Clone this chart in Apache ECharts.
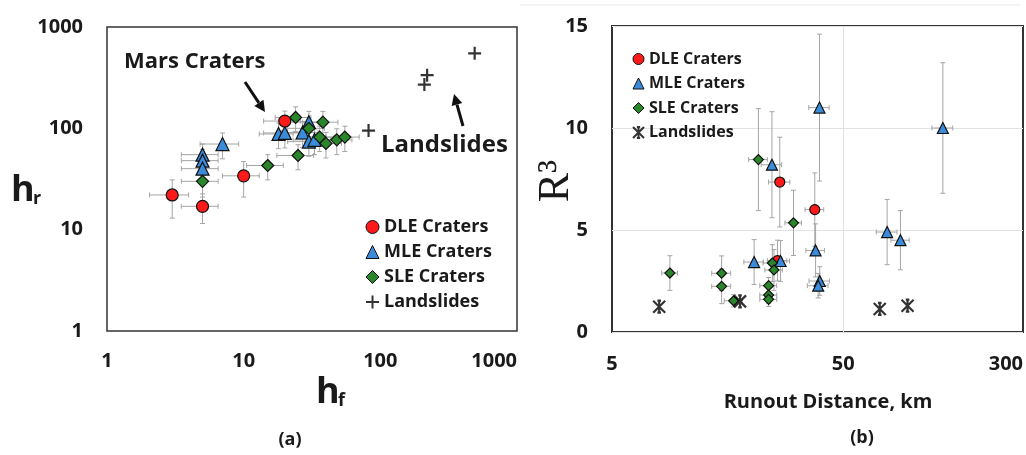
<!DOCTYPE html>
<html><head><meta charset="utf-8">
<script src="https://cdn.jsdelivr.net/npm/echarts@6/dist/echarts.min.js"></script>
<style>html,body{margin:0;padding:0;background:#fff}#c{width:1026px;height:455px}</style>
</head><body><div id="c"></div>
<script>
// ---------- Panel (a): h_f (x) vs h_r (y), log-log ----------
const dleA_x = [3, 5, 10, 20];
const dleA_y = [22, 17, 34, 118];
const dleA_xerr = [0.95, 1.5, 3, 6];
const dleA_yerr = [9, 5.5, 13, 30];

const mleA_x = [5, 5, 5, 7, 18, 20, 27, 30, 30, 33];
const mleA_y = [55, 48, 40, 70, 88, 90, 91, 115, 74, 77];
const mleA_xerr = [1.5, 1.5, 1.5, 2.2, 5, 6, 8, 9, 9, 10];
const mleA_yerr = [15, 14, 12, 20, 25, 26, 26, 32, 21, 22];

const sleA_x = [5, 15, 24, 25, 30, 36, 38, 40, 48, 55];
const sleA_y = [30, 43, 128, 54, 100, 82, 115, 71, 77, 82];
const sleA_xerr = [1.5, 4.5, 7, 7.5, 9, 10, 11, 12, 14, 15];
const sleA_yerr = [9, 12, 35, 15, 28, 23, 32, 20, 22, 23];

const landA_x = [82, 210, 220, 490];
const landA_y = [95, 270, 335, 550];

const ticksA = [1, 10, 100, 1000];

// ---------- Panel (b): runout distance (x, log) vs R^3 (y) ----------
const dleB_x = [26.6, 37.7, 26];
const dleB_y = [7.35, 6.0, 3.5];
const dleB_xerr = [2.8, 3.5, 2.5];
const dleB_yerr = [2.2, 1.8, 1.0];

const mleB_x = [20.6, 24.6, 26.8, 38, 39.5, 39.6, 39, 77.5, 88.5, 135];
const mleB_y = [3.43, 8.2, 3.48, 4.0, 11.0, 2.5, 2.27, 4.9, 4.5, 10.0];
const mleB_xerr = [2, 2.5, 2.5, 3.5, 4, 4, 4, 8, 8, 14];
const mleB_yerr = [1.1, 2.6, 1.0, 1.3, 3.6, 0.7, 0.6, 1.6, 1.45, 3.2];

const sleB_x = [8.9, 14.9, 14.9, 16.8, 21.5, 23.8, 23.8, 23.8, 24.7, 25.1, 30.5];
const sleB_y = [2.89, 2.88, 2.24, 1.53, 8.45, 2.27, 1.81, 1.6, 3.38, 3.04, 5.35];
const sleB_xerr = [0.7, 1.4, 1.4, 1.5, 2, 2, 2, 2, 2.2, 2.2, 2.5];
const sleB_yerr = [0.85, 0.85, 0.85, 0.3, 2.5, 0.4, 0.4, 0.35, 0.9, 1.0, 1.6];

const landB_x = [8, 17.9, 72, 95];
const landB_y = [1.24, 1.5, 1.13, 1.29];

const ticksBx = [5, 50, 300];
const legendNames = ['DLE Craters', 'MLE Craters', 'SLE Craters', 'Landslides'];

// ---------- styles ----------
const FONT = 'Open Sans';
const TXT = '#1a1a1a';
const RED = '#ff1a1a', BLUE = '#3a8cdb', GREEN = '#2a862a';
const PLUS = 'path://M5,0L5,10M0,5L10,5';
const STAR = 'path://M0,0L10,10M10,0L0,10M5,0L5,10M3.5,0L6.5,0M3.5,10L6.5,10';

function pts(xs, ys) { return xs.map((x, i) => [x, ys[i]]); }
function errData(xs, ys, xe, ye) { return xs.map((x, i) => [x, ys[i], xe[i], ye[i]]); }

function errSeries(xs, ys, xe, ye, gi) {
  return {
    type: 'custom', xAxisIndex: gi, yAxisIndex: gi, z: 1, silent: true,
    encode: { x: 0, y: 1 },
    data: errData(xs, ys, xe, ye),
    renderItem: function (params, api) {
      const x = api.value(0), y = api.value(1), ex = api.value(2), ey = api.value(3);
      const l = api.coord([x - ex, y]), r = api.coord([x + ex, y]);
      const t = api.coord([x, y + ey]), b = api.coord([x, y - ey]);
      const st = { stroke: '#a5a5a5', lineWidth: 1 };
      const c = 2.5;
      const L = (x1, y1, x2, y2) => ({ type: 'line', shape: { x1, y1, x2, y2 }, style: st });
      return {
        type: 'group', children: [
          L(l[0], l[1], r[0], r[1]),
          L(l[0], l[1] - c, l[0], l[1] + c),
          L(r[0], r[1] - c, r[0], r[1] + c),
          L(t[0], t[1], b[0], b[1]),
          L(t[0] - c, t[1], t[0] + c, t[1]),
          L(b[0] - c, b[1], b[0] + c, b[1])
        ]
      };
    }
  };
}

function scat(name, xs, ys, gi, symbol, size, color) {
  return {
    name, type: 'scatter', xAxisIndex: gi, yAxisIndex: gi, z: 3,
    symbol, symbolSize: size, data: pts(xs, ys),
    itemStyle: { color, borderColor: '#111', borderWidth: 1.2, opacity: 1 }
  };
}
function landSeries(xs, ys, gi, symbol, size) {
  return {
    name: 'Landslides', type: 'scatter', xAxisIndex: gi, yAxisIndex: gi, z: 3,
    symbol, symbolSize: size, data: pts(xs, ys),
    itemStyle: { color: 'rgba(0,0,0,0)', borderColor: '#000', borderWidth: 2.2 }
  };
}

const labelStyle = { fontFamily: FONT, fontWeight: 'bold', fontSize: 20, color: TXT, formatter: v => String(Math.round(v)) };

function legendData(landIcon) {
  return [
    { name: legendNames[0], icon: 'circle', itemStyle: { color: RED, borderColor: '#111', borderWidth: 1 } },
    { name: legendNames[1], icon: 'triangle', itemStyle: { color: BLUE, borderColor: '#111', borderWidth: 1 } },
    { name: legendNames[2], icon: 'diamond', itemStyle: { color: GREEN, borderColor: '#111', borderWidth: 1 } },
    { name: legendNames[3], icon: landIcon, itemStyle: { color: 'rgba(0,0,0,0)', borderColor: '#000', borderWidth: 2 } }
  ];
}

const chart = echarts.init(document.getElementById('c'), null, { renderer: 'canvas' });

const landBSeries = landSeries(landB_x, landB_y, 1, STAR, 12);
landBSeries.markLine = {
  silent: true, symbol: 'none', label: { show: false },
  lineStyle: { color: '#e2e2e2', type: 'solid', width: 1 },
  data: [{ xAxis: ticksBx[1] }], z: 0
};

chart.setOption({
  animation: false,
  backgroundColor: '#fff',
  grid: [
    { left: 107, top: 27, width: 410, height: 304, show: true, borderColor: '#333', borderWidth: 1.5, containLabel: false },
    { left: 612, top: 26, width: 411, height: 306, show: true, borderColor: '#333', borderWidth: 2, containLabel: false }
  ],
  xAxis: [
    {
      gridIndex: 0, type: 'log', logBase: 10, min: ticksA[0], max: ticksA[3],
      axisLine: { show: false }, axisTick: { show: false }, splitLine: { show: false },
      axisLabel: Object.assign({}, labelStyle, { margin: 20, alignMaxLabel: 'right' })
    },
    {
      gridIndex: 1, type: 'log', logBase: 10, min: ticksBx[0], max: ticksBx[2],
      axisLine: { show: false }, axisTick: { show: false }, splitLine: { show: false },
      axisLabel: Object.assign({}, labelStyle, {
        margin: 22, alignMaxLabel: 'right',
        formatter: v => { const r = Math.round(v); return (r === ticksBx[0] || r === ticksBx[2]) ? String(r) : ''; }
      })
    }
  ],
  yAxis: [
    {
      gridIndex: 0, type: 'log', logBase: 10, min: ticksA[0], max: ticksA[3],
      axisLine: { show: false }, axisTick: { show: false }, splitLine: { show: false },
      axisLabel: Object.assign({}, labelStyle, { margin: 24 })
    },
    {
      gridIndex: 1, type: 'value', min: 0, max: 15, interval: 5,
      axisLine: { show: false }, axisTick: { show: false },
      splitLine: { show: true, lineStyle: { color: '#e2e2e2', width: 1 } },
      axisLabel: Object.assign({}, labelStyle, { margin: 24 })
    }
  ],
  legend: [
    {
      orient: 'vertical', left: 360, top: 213, itemWidth: 13, itemHeight: 13, itemGap: 7,
      selectedMode: false, textStyle: { fontFamily: FONT, fontWeight: 'bold', fontSize: 18, color: TXT },
      data: legendData(PLUS)
    },
    {
      orient: 'vertical', left: 627, top: 46, itemWidth: 11, itemHeight: 11, itemGap: 8.5,
      selectedMode: false, textStyle: { fontFamily: FONT, fontWeight: 'bold', fontSize: 16, color: TXT },
      data: legendData(STAR)
    }
  ],
  series: [
    errSeries(dleA_x, dleA_y, dleA_xerr, dleA_yerr, 0),
    errSeries(mleA_x, mleA_y, mleA_xerr, mleA_yerr, 0),
    errSeries(sleA_x, sleA_y, sleA_xerr, sleA_yerr, 0),
    scat('MLE Craters', mleA_x, mleA_y, 0, 'triangle', 13, BLUE),
    scat('SLE Craters', sleA_x, sleA_y, 0, 'diamond', 12, GREEN),
    scat('DLE Craters', dleA_x, dleA_y, 0, 'circle', 12, RED),
    landSeries(landA_x, landA_y, 0, PLUS, 13),

    errSeries(dleB_x, dleB_y, dleB_xerr, dleB_yerr, 1),
    errSeries(mleB_x, mleB_y, mleB_xerr, mleB_yerr, 1),
    errSeries(sleB_x, sleB_y, sleB_xerr, sleB_yerr, 1),
    scat('DLE Craters', dleB_x, dleB_y, 1, 'circle', 10, RED),
    scat('MLE Craters', mleB_x, mleB_y, 1, 'triangle', 11, BLUE),
    scat('SLE Craters', sleB_x, sleB_y, 1, 'diamond', 10, GREEN),
    landBSeries
  ]
});

// label "50" on the runout axis, positioned through the axis scale
const x50 = chart.convertToPixel({ xAxisIndex: 1 }, ticksBx[1]);
const yB0 = chart.convertToPixel({ yAxisIndex: 1 }, 0);

function arrow(x0, y0, tx, ty) {
  const dx = tx - x0, dy = ty - y0, len = Math.hypot(dx, dy);
  const ux = dx / len, uy = dy / len, hl = 11, hw = 5.5;
  const bx = tx - ux * hl, by = ty - uy * hl;
  return [
    { type: 'line', shape: { x1: x0, y1: y0, x2: bx, y2: by }, style: { stroke: '#111', lineWidth: 3 } },
    { type: 'polygon', shape: { points: [[tx, ty], [bx - uy * hw, by + ux * hw], [bx + uy * hw, by - ux * hw]] }, style: { fill: '#111' } }
  ];
}

const bold = (s, fs) => ({ fontFamily: FONT, fontWeight: 'bold', fontSize: fs, fill: TXT, text: s });

chart.setOption({
  graphic: [
    { type: 'line', shape: { x1: 520, y1: 5, x2: 1020, y2: 5 }, style: { stroke: '#e8e8e8', lineWidth: 1 } },
    { type: 'text', x: x50, y: yB0 + 22, style: Object.assign(bold(String(ticksBx[1]), 20), { textAlign: 'center', textVerticalAlign: 'top' }) },
    { type: 'text', x: 124, y: 62, style: Object.assign(bold('Mars Craters', 22), { textAlign: 'left', textVerticalAlign: 'middle' }) },
    { type: 'text', x: 381, y: 145, style: Object.assign(bold('Landslides', 24), { textAlign: 'left', textVerticalAlign: 'middle' }) },
    ...arrow(245, 82, 265, 112),
    ...arrow(463, 126, 454, 94),
    { type: 'text', x: 11, y: 191, style: Object.assign(bold('h', 36), { textAlign: 'left', textVerticalAlign: 'middle' }) },
    { type: 'text', x: 33, y: 199, style: Object.assign(bold('r', 18), { textAlign: 'left', textVerticalAlign: 'middle' }) },
    { type: 'text', x: 316, y: 393, style: Object.assign(bold('h', 36), { textAlign: 'left', textVerticalAlign: 'middle' }) },
    { type: 'text', x: 338, y: 401, style: Object.assign(bold('f', 18), { textAlign: 'left', textVerticalAlign: 'middle' }) },
    { type: 'text', x: 290, y: 440, style: Object.assign(bold('(a)', 18), { textAlign: 'center', textVerticalAlign: 'middle' }) },
    { type: 'text', x: 862, y: 438, style: Object.assign(bold('(b)', 18), { textAlign: 'center', textVerticalAlign: 'middle' }) },
    { type: 'text', x: 828, y: 402, style: Object.assign(bold('Runout Distance, km', 20), { textAlign: 'center', textVerticalAlign: 'middle' }) },
    { type: 'text', x: 556, y: 181, rotation: Math.PI / 2,
      style: { text: 'R³', fontFamily: 'Liberation Serif', fontSize: 44, fill: TXT, textAlign: 'center', textVerticalAlign: 'middle' } }
  ]
});
</script>
</body></html>
